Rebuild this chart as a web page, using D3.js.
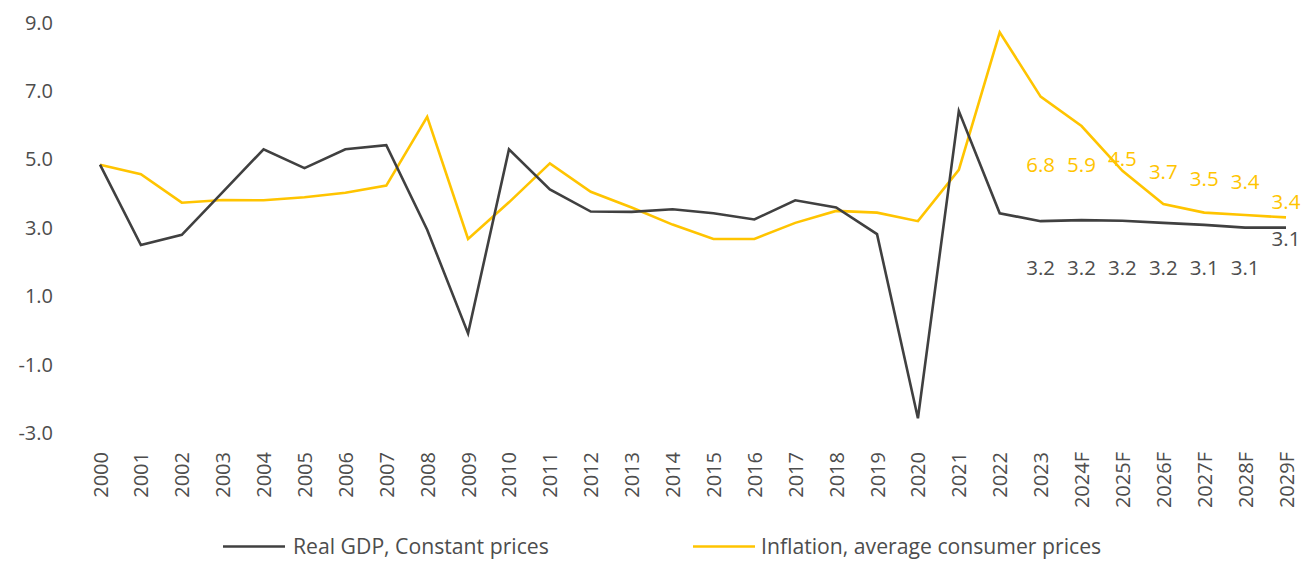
<html>
<style>
body { margin: 0; background: #fff; }
text { font-family: "Open Sans", sans-serif; fill: #4d4d4d; }
.line { fill: none; stroke-width: 2.6px; stroke-linejoin: miter; }
</style>
<svg width="1303" height="562"></svg>
<script src="https://d3js.org/d3.v7.min.js"></script>
<script>

var years = ["2000","2001","2002","2003","2004","2005","2006","2007","2008","2009",
             "2010","2011","2012","2013","2014","2015","2016","2017","2018","2019",
             "2020","2021","2022","2023","2024F","2025F","2026F","2027F","2028F","2029F"];

var gdp = [4.85, 2.5, 2.8, 4.05, 5.3, 4.75, 5.3, 5.42, 2.95, -0.08,
           5.3, 4.13, 3.48, 3.47, 3.55, 3.43, 3.25, 3.81, 3.6, 2.82,
           -2.56, 6.42, 3.43, 3.2, 3.23, 3.21, 3.15, 3.09, 3.01, 3.01];

var inflation = [4.85, 4.57, 3.74, 3.82, 3.81, 3.9, 4.03, 4.24, 6.25, 2.68,
                 3.75, 4.89, 4.06, 3.6, 3.1, 2.68, 2.68, 3.15, 3.5, 3.45,
                 3.2, 4.7, 8.72, 6.84, 5.98, 4.67, 3.7, 3.45, 3.38, 3.31];

var labelYears = ["2023","2024F","2025F","2026F","2027F","2028F","2029F"];
var gdpLabels = ["3.2","3.2","3.2","3.2","3.1","3.1","3.1"];
var inflationLabels = ["6.8","5.9","4.5","3.7","3.5","3.4","3.4"];

var yTicks = [-3, -1, 1, 3, 5, 7, 9];

var seriesNames = ["Real GDP, Constant prices", "Inflation, average consumer prices"];

var svg = d3.select("svg");

var grayC = "#404040",
    yellowC = "#FFC400";

var x = d3.scalePoint()
    .domain(years)
    .range([100, 1286]);

var y = d3.scaleLinear()
    .domain([-3, 9])
    .range([433.3, 22.7]);

// y axis, no domain line, no ticks
var yAxis = svg.append("g")
    .attr("transform", "translate(56,0)")
    .call(d3.axisLeft(y).tickValues(yTicks).tickSize(0).tickPadding(3)
      .tickFormat(function(d) { return d.toFixed(1); }));
yAxis.select(".domain").remove();
yAxis.selectAll("text")
    .style("font-family", "'Open Sans', sans-serif")
    .style("font-size", "20px")
    .attr("fill", "#4d4d4d");

// x axis, rotated labels
var xAxis = svg.append("g")
    .attr("transform", "translate(0,452)")
    .call(d3.axisBottom(x).tickSize(0).tickPadding(0));
xAxis.select(".domain").remove();
xAxis.selectAll("text")
    .style("font-family", "'Open Sans', sans-serif")
    .style("font-size", "20px")
    .attr("fill", "#4d4d4d")
    .attr("transform", "rotate(-90)")
    .attr("text-anchor", "end")
    .attr("x", 0)
    .attr("y", 0)
    .attr("dy", "0.35em");

var line = d3.line()
    .x(function(d, i) { return x(years[i]); })
    .y(function(d) { return y(d); });

svg.append("path")
    .datum(inflation)
    .attr("class", "line")
    .attr("stroke", yellowC)
    .attr("d", line);

svg.append("path")
    .datum(gdp)
    .attr("class", "line")
    .attr("stroke", grayC)
    .attr("d", line);

// data labels (offsets from the point, px)
var inflDy = [68, 39, -12.5, -32.5, -34, -33.5, -16];
var gdpDy = [46.5, 47.5, 47, 45, 42.5, 40, 11];

svg.append("g").selectAll("text")
  .data(inflationLabels)
  .enter().append("text")
    .attr("x", function(d, i) { return x(labelYears[i]); })
    .attr("y", function(d, i) { return y(inflation[years.indexOf(labelYears[i])]) + inflDy[i]; })
    .attr("dy", "0.35em")
    .attr("text-anchor", "middle")
    .style("font-size", "20.5px")
    .style("fill", yellowC)
    .text(function(d) { return d; });

svg.append("g").selectAll("text")
  .data(gdpLabels)
  .enter().append("text")
    .attr("x", function(d, i) { return x(labelYears[i]); })
    .attr("y", function(d, i) { return y(gdp[years.indexOf(labelYears[i])]) + gdpDy[i]; })
    .attr("dy", "0.35em")
    .attr("text-anchor", "middle")
    .style("font-size", "20.5px")
    .style("fill", "#4d4d4d")
    .text(function(d) { return d; });

// legend
var legend = svg.append("g");
var legendX = [223, 693];
var legendColors = [grayC, yellowC];

legend.selectAll("line")
  .data(seriesNames)
  .enter().append("line")
    .attr("x1", function(d, i) { return legendX[i]; })
    .attr("x2", function(d, i) { return legendX[i] + 62; })
    .attr("y1", 546.5)
    .attr("y2", 546.5)
    .attr("stroke", function(d, i) { return legendColors[i]; })
    .attr("stroke-width", 2.6);

legend.selectAll("text")
  .data(seriesNames)
  .enter().append("text")
    .attr("x", function(d, i) { return legendX[i] + (i == 0 ? 70 : 68); })
    .attr("y", 546.5)
    .attr("dy", "0.35em")
    .style("font-size", "21.2px")
    .text(function(d) { return d; });

</script>
</html>
